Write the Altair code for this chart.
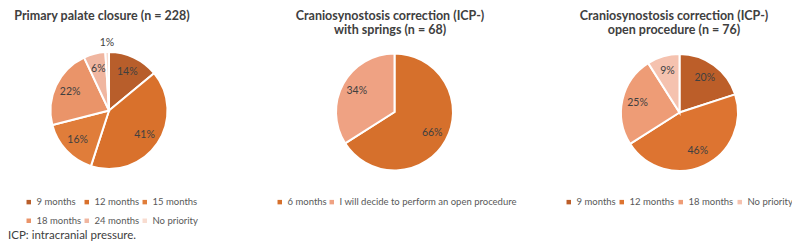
import altair as alt
import pandas as pd

# ---- data ----
p1_title = "Primary palate closure (n = 228)"
p1_cats = ["9 months", "12 months", "15 months", "18 months", "24 months", "No priority"]
p1_vals = [14, 41, 16, 22, 6, 1]

p2_title = "Craniosynostosis correction (ICP-)\nwith springs (n = 68)"
p2_cats = ["6 months", "I will decide to perform an open procedure"]
p2_vals = [66, 34]

p3_title = "Craniosynostosis correction (ICP-)\nopen procedure (n = 76)"
p3_cats = ["9 months", "12 months", "18 months", "No priority"]
p3_vals = [20, 46, 25, 9]

footnote = "ICP: intracranial pressure."

# ---- styles ----
p1_colors = ["#B85E2B", "#D9712C", "#E07D3A", "#EA9469", "#F0B6A0", "#F8DCD0"]
p2_colors = ["#D6702C", "#EFA283"]
p3_colors = ["#BC5E29", "#DD7431", "#EE9C76", "#F5C2AF"]

FONT = "Lato"
TXT = "#404040"
R = 58.5


def pie(cats, vals, colors, cx, cy, lx, ly, cols, colpad, lfs=9.5):
    df = pd.DataFrame({"cat": cats, "pct": vals, "idx": list(range(len(cats)))})
    base = alt.Chart(df).transform_calculate(label="datum.pct + '%'").encode(
        theta=alt.Theta("pct:Q", stack=True, scale=alt.Scale(domain=[0, 100])),
        order=alt.Order("idx:Q"),
    )
    arc = base.mark_arc(outerRadius=R, stroke="white", strokeWidth=2).encode(
        x=alt.value(cx),
        y=alt.value(cy),
        color=alt.Color(
            "cat:N",
            sort=cats,
            scale=alt.Scale(domain=cats, range=colors),
            legend=alt.Legend(
                orient="none", legendX=lx, legendY=ly, direction="horizontal",
                columns=cols, title=None, symbolType="square", symbolSize=20,
                symbolStrokeWidth=0, labelFont=FONT, labelFontSize=lfs,
                labelColor="#595959", columnPadding=colpad, rowPadding=8,
                labelOffset=3, labelLimit=400, padding=0, gridAlign="each",
            ),
        ),
    )
    inner = base.mark_text(radius=43, font=FONT, fontSize=10.5, color=TXT).encode(
        x=alt.value(cx), y=alt.value(cy), text="label:N",
        opacity=alt.condition("datum.pct >= 3", alt.value(1), alt.value(0)),
    )
    outer = base.mark_text(radius=R + 9, font=FONT, fontSize=10.5, color=TXT).encode(
        x=alt.value(cx), y=alt.value(cy), text="label:N",
        opacity=alt.condition("datum.pct < 3", alt.value(1), alt.value(0)),
    )
    return [arc, inner, outer]


def title(txt, cx):
    return alt.Chart(pd.DataFrame({"t": [txt]})).mark_text(
        font=FONT, fontSize=12.5, fontWeight="bold", color=TXT,
        lineBreak="\n", baseline="top", lineHeight=14,
    ).encode(x=alt.value(cx), y=alt.value(2), text="t:N")


layers = []
layers += pie(p1_cats, p1_vals, p1_colors, 101, 102.5, 16, 189, 3, 0)
layers += pie(p2_cats, p2_vals, p2_colors, 386.5, 104, 267, 189, 2, 0)
layers += pie(p3_cats, p3_vals, p3_colors, 671.5, 104.5, 556, 189, 4, 1)
layers += [title(p1_title, 94), title(p2_title, 382), title(p3_title, 666)]
layers.append(
    alt.Chart(pd.DataFrame({"t": [footnote]})).mark_text(
        font=FONT, fontSize=11.5, color=TXT, align="left", baseline="alphabetic"
    ).encode(x=alt.value(0), y=alt.value(231), text="t:N")
)

chart = (
    alt.layer(*layers)
    .resolve_scale(color="independent")
    .properties(width=784, height=233, padding=0,
                autosize=alt.AutoSizeParams(type="none"))
    .configure_view(strokeWidth=0)
)

chart.save("out.html", embed_options={"renderer": "svg", "actions": False})
